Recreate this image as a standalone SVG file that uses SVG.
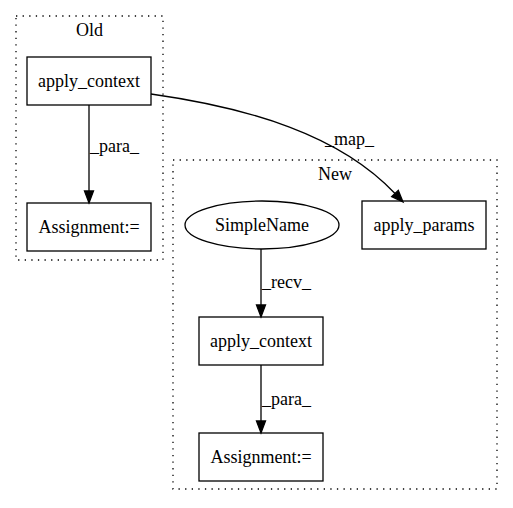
<svg xmlns="http://www.w3.org/2000/svg" width="513" height="508" viewBox="0 0 513 508">
<style>
text{font-family:"Liberation Serif","Times New Roman",serif;font-size:18px;fill:#000}
.c{text-anchor:middle}
.cl{fill:none;stroke:#000;stroke-width:1.3;stroke-dasharray:1.3,5.3}
.n{fill:none;stroke:#000;stroke-width:1.3}
.e{fill:none;stroke:#000;stroke-width:1.3}
.ah{fill:#000;stroke:#000;stroke-width:1.3}
</style>
<rect width="513" height="508" fill="#fff"/>
<g id="cluster_old">
<rect class="cl" x="16" y="16" width="147" height="244"/>
<text class="c" x="89.5" y="36">Old</text>
</g>
<g id="cluster_new">
<rect class="cl" x="173" y="160" width="324" height="329"/>
<text class="c" x="335" y="180">New</text>
</g>
<g id="old_apply_context">
<rect class="n" x="27" y="57" width="124" height="48"/>
<text class="c" x="89" y="87">apply_context</text>
</g>
<g id="old_assignment">
<rect class="n" x="27" y="203" width="124" height="48"/>
<text class="c" x="89" y="233">Assignment:=</text>
</g>
<g id="apply_params">
<rect class="n" x="362" y="201" width="124" height="48"/>
<text class="c" x="424" y="231">apply_params</text>
</g>
<g id="simplename">
<ellipse class="n" cx="262" cy="225" rx="77" ry="24"/>
<text class="c" x="262" y="231">SimpleName</text>
</g>
<g id="new_apply_context">
<rect class="n" x="199" y="317" width="124" height="48"/>
<text class="c" x="261" y="347">apply_context</text>
</g>
<g id="new_assignment">
<rect class="n" x="199" y="433" width="124" height="48"/>
<text class="c" x="261" y="463">Assignment:=</text>
</g>
<g id="edges">
<path class="e" d="M89,105 L89,191"/>
<polygon class="ah" points="84.5,191 89,203 93.5,191"/>
<text x="90" y="152">_para_</text>
<path class="e" d="M151,94 C250,108 340,135 395,193.5"/>
<polygon class="ah" points="391.7,196.6 403,202 398.3,190.4"/>
<text x="325" y="145">_map_</text>
<path class="e" d="M261,249 L261,305"/>
<polygon class="ah" points="256.5,305 261,317 265.5,305"/>
<text x="262" y="288">_recv_</text>
<path class="e" d="M261,365 L261,421"/>
<polygon class="ah" points="256.5,421 261,433 265.5,421"/>
<text x="262" y="405">_para_</text>
</g>
</svg>
